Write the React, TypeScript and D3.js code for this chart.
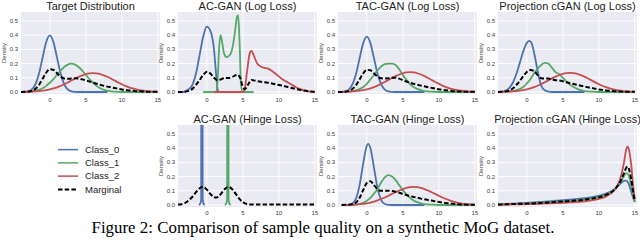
import React from 'react'
import * as d3 from 'd3'

const width = 640
const height = 241

const xTicks = [0, 5, 10, 15]
const yTicks = [0, 0.1, 0.2, 0.3, 0.4, 0.5]
const seriesNames = ['Class_0', 'Class_1', 'Class_2', 'Marginal']
const seriesColors = ['#4C72B0', '#55A868', '#C44E52', '#000000']

type Pt = [number, number]

// Target Distribution
const targetC0: Pt[] = [[-4,0],[-3.5,0.001],[-3,0.004],[-2.5,0.018],[-2,0.054],[-1.5,0.13],[-1,0.242],[-0.5,0.352],[0,0.399],[0.5,0.352],[1,0.242],[1.5,0.13],[2,0.054],[2.5,0.018],[3,0.004],[3.5,0.001],[4,0],[8,0]]
const targetC1: Pt[] = [[-3,0.002],[-2.5,0.005],[-2,0.009],[-1.5,0.016],[-1,0.027],[-0.5,0.043],[0,0.065],[0.5,0.091],[1,0.121],[1.5,0.151],[2,0.176],[2.5,0.193],[3,0.2],[3.5,0.193],[4,0.176],[4.5,0.151],[5,0.121],[5.5,0.091],[6,0.065],[6.5,0.043],[7,0.027],[7.5,0.016],[8,0.009],[8.5,0.005],[9,0.002],[10,0],[15,0]]
const targetC2: Pt[] = [[-4,0.001],[-3,0.002],[-2,0.004],[-1,0.009],[0,0.018],[0.5,0.025],[1,0.033],[1.5,0.043],[2,0.055],[2.5,0.067],[3,0.081],[3.5,0.094],[4,0.107],[4.5,0.117],[5,0.126],[5.5,0.131],[6,0.133],[6.5,0.131],[7,0.126],[7.5,0.117],[8,0.107],[8.5,0.094],[9,0.081],[9.5,0.067],[10,0.055],[10.5,0.043],[11,0.033],[11.5,0.025],[12,0.018],[13,0.009],[14,0.004],[15,0.002]]
const targetM: Pt[] = [[-4,0],[-3.5,0.001],[-3,0.003],[-2.5,0.008],[-2,0.022],[-1.5,0.05],[-1,0.093],[-0.5,0.136],[0,0.161],[0.5,0.156],[1,0.132],[1.5,0.108],[2,0.095],[2.5,0.093],[3,0.095],[3.5,0.096],[4,0.094],[4.5,0.089],[5,0.082],[5.5,0.074],[6,0.066],[6.5,0.058],[7,0.051],[7.5,0.044],[8,0.038],[8.5,0.033],[9,0.028],[9.5,0.023],[10,0.018],[10.5,0.014],[11,0.011],[12,0.006],[13,0.003],[14,0.001],[15,0.001]]

// AC-GAN (Log Loss)
const acLogC0: Pt[] = [[-3.5,0],[-3,0.005],[-2.5,0.02],[-2,0.05],[-1.5,0.13],[-1,0.26],[-0.5,0.39],[0,0.46],[0.5,0.43],[1,0.3],[1.25,0.15],[1.5,0.02],[1.75,0],[5,0]]
const acLogC1: Pt[] = [[-0.5,0],[1.3,0],[1.5,0.08],[1.7,0.3],[1.9,0.4],[2.1,0.36],[2.4,0.27],[2.75,0.245],[3.2,0.26],[3.6,0.32],[3.9,0.42],[4.2,0.53],[4.35,0.54],[4.55,0.35],[4.75,0.05],[5,0],[6.5,0]]
const acLogC2: Pt[] = [[1,0],[5,0],[5.3,0.03],[5.6,0.15],[6,0.28],[6.2,0.29],[6.5,0.26],[7,0.2],[7.5,0.18],[8,0.17],[8.5,0.165],[9,0.15],[9.5,0.13],[10,0.11],[10.5,0.09],[11,0.075],[11.5,0.06],[12,0.045],[12.5,0.03],[13,0.02],[13.5,0.01],[14,0.005],[15,0.001]]
const acLogM: Pt[] = [[-4,0],[-3,0.002],[-2.5,0.008],[-2,0.022],[-1.5,0.05],[-1,0.085],[-0.5,0.12],[0,0.143],[0.5,0.13],[1,0.1],[1.5,0.083],[2,0.09],[2.5,0.1],[3,0.098],[3.5,0.105],[4,0.118],[4.3,0.12],[4.7,0.09],[5,0.035],[5.3,0.02],[5.7,0.05],[6.2,0.085],[6.7,0.08],[7.5,0.072],[8.5,0.065],[9.5,0.055],[10.5,0.045],[11.5,0.032],[12.5,0.02],[13.5,0.01],[14.5,0.003],[15,0.001]]

// TAC-GAN (Log Loss)
const tacLogC0: Pt[] = [[-4,0],[-3.5,0.001],[-3,0.004],[-2.5,0.017],[-2,0.053],[-1.5,0.127],[-1,0.237],[-0.5,0.344],[0,0.39],[0.5,0.344],[1,0.237],[1.5,0.127],[2,0.053],[2.5,0.017],[3,0.004],[3.5,0.001],[4,0],[8,0]]
const tacLogC1: Pt[] = [[-3,0.001],[-2,0.006],[-1,0.02],[-0.5,0.035],[0,0.058],[0.5,0.088],[1,0.12],[1.5,0.152],[2,0.18],[2.5,0.197],[3,0.2],[3.5,0.2],[4,0.19],[4.5,0.16],[5,0.12],[5.5,0.085],[6,0.056],[6.5,0.036],[7,0.022],[7.5,0.013],[8,0.007],[9,0.002],[10,0],[15,0]]
const tacLogC2: Pt[] = [[-4,0.001],[-3,0.002],[-2,0.004],[-1,0.009],[0,0.019],[0.5,0.026],[1,0.035],[1.5,0.045],[2,0.058],[2.5,0.071],[3,0.085],[3.5,0.099],[4,0.112],[4.5,0.123],[5,0.132],[5.5,0.138],[6,0.14],[6.5,0.138],[7,0.132],[7.5,0.123],[8,0.112],[8.5,0.099],[9,0.085],[9.5,0.071],[10,0.058],[10.5,0.045],[11,0.035],[11.5,0.026],[12,0.019],[13,0.009],[14,0.004],[15,0.002]]
const tacLogM: Pt[] = [[-4,0],[-3,0.002],[-2,0.021],[-1.5,0.048],[-1,0.089],[-0.5,0.131],[0,0.156],[0.5,0.153],[1,0.131],[1.5,0.108],[2,0.097],[2.5,0.095],[3,0.096],[3.5,0.1],[4,0.101],[4.5,0.094],[5,0.084],[5.5,0.074],[6,0.065],[6.5,0.058],[7,0.051],[7.5,0.045],[8,0.04],[8.5,0.034],[9,0.029],[9.5,0.024],[10,0.019],[10.5,0.015],[11,0.012],[12,0.006],[13,0.003],[14,0.001],[15,0.001]]

// Projection cGAN (Log Loss)
const projLogC0: Pt[] = [[-4,0],[-3.5,0.002],[-3,0.008],[-2.5,0.025],[-2,0.06],[-1.5,0.12],[-1,0.2],[-0.5,0.285],[0,0.345],[0.3,0.36],[0.6,0.35],[1,0.28],[1.5,0.15],[2,0.045],[2.5,0.012],[3,0.003],[3.5,0],[8,0]]
const projLogC1: Pt[] = [[-3,0.001],[-2,0.006],[-1,0.02],[-0.5,0.035],[0,0.06],[0.5,0.09],[1,0.13],[1.5,0.165],[2,0.19],[2.5,0.205],[3,0.2],[3.5,0.17],[4,0.14],[4.5,0.125],[5,0.1],[5.5,0.075],[6,0.052],[6.5,0.035],[7,0.022],[7.5,0.013],[8,0.007],[9,0.002],[10,0],[15,0]]
const projLogC2: Pt[] = [[-4,0.001],[-3,0.002],[-2,0.004],[-1,0.009],[0,0.019],[0.5,0.026],[1,0.034],[1.5,0.044],[2,0.056],[2.5,0.069],[3,0.082],[3.5,0.096],[4,0.108],[4.5,0.119],[5,0.128],[5.5,0.133],[6,0.135],[6.5,0.133],[7,0.128],[7.5,0.119],[8,0.108],[8.5,0.095],[9,0.082],[9.5,0.068],[10,0.055],[10.5,0.044],[11,0.034],[11.5,0.025],[12,0.018],[13,0.009],[14,0.004],[15,0.002]]
const projLogM: Pt[] = [[-4,0],[-3.5,0.001],[-3,0.004],[-2.5,0.01],[-2,0.023],[-1.5,0.046],[-1,0.076],[-0.5,0.111],[0,0.141],[0.5,0.155],[1,0.148],[1.5,0.12],[2,0.097],[2.5,0.095],[3,0.095],[3.5,0.089],[4,0.083],[4.5,0.081],[5,0.076],[5.5,0.069],[6,0.062],[6.5,0.056],[7,0.05],[7.5,0.044],[8,0.038],[8.5,0.033],[9,0.028],[9.5,0.023],[10,0.018],[10.5,0.015],[11,0.011],[12,0.006],[13,0.003],[14,0.001],[15,0.001]]

// AC-GAN (Hinge Loss)
const acHingeC0: Pt[] = [[-1.1,0],[-0.9,0.01],[-0.78,0.04],[-0.74,3],[-0.62,3],[-0.58,0.04],[-0.46,0.01],[-0.3,0]]
const acHingeC1: Pt[] = [[2.5,0],[2.7,0.01],[2.82,0.04],[2.86,3],[2.98,3],[3.02,0.04],[3.14,0.01],[3.3,0]]
const acHingeM: Pt[] = [[-4,0.003],[-3.5,0.006],[-3,0.015],[-2.5,0.033],[-2,0.058],[-1.5,0.09],[-1,0.118],[-0.6,0.127],[-0.2,0.118],[0.2,0.097],[0.6,0.072],[1,0.056],[1.3,0.052],[1.7,0.062],[2.1,0.088],[2.5,0.113],[3,0.127],[3.5,0.113],[4,0.08],[4.5,0.045],[5,0.02],[5.5,0.008],[6,0.004],[10,0.003],[15,0.003]]

// TAC-GAN (Hinge Loss)
const tacHingeC0: Pt[] = [[-3.5,0],[-2.5,0.001],[-2,0.01],[-1.5,0.045],[-1,0.14],[-0.5,0.293],[0,0.417],[0.2,0.43],[0.5,0.401],[1,0.261],[1.5,0.115],[2,0.034],[2.5,0.007],[3,0.001],[3.5,0],[8,0]]
const tacHingeC1: Pt[] = [[-2,0.001],[-1,0.007],[-0.5,0.015],[0,0.03],[0.5,0.05],[1,0.08],[1.5,0.115],[2,0.16],[2.5,0.195],[3,0.21],[3.5,0.2],[4,0.175],[4.5,0.14],[5,0.105],[5.5,0.075],[6,0.05],[6.5,0.032],[7,0.02],[7.5,0.012],[8,0.006],[9,0.002],[10,0],[15,0]]
const tacHingeC2: Pt[] = [[-3,0.001],[-2,0.003],[-1,0.006],[0,0.012],[0.5,0.017],[1,0.024],[1.5,0.032],[2,0.042],[2.5,0.053],[3,0.065],[3.5,0.078],[4,0.09],[4.5,0.102],[5,0.112],[5.5,0.12],[6,0.126],[6.5,0.128],[7,0.126],[7.5,0.12],[8,0.112],[8.5,0.102],[9,0.09],[9.5,0.078],[10,0.065],[10.5,0.053],[11,0.042],[11.5,0.032],[12,0.024],[12.5,0.017],[13,0.012],[14,0.006],[15,0.003]]
const tacHingeM: Pt[] = [[-3.5,0],[-3,0.001],[-2,0.005],[-1.5,0.017],[-1,0.051],[-0.5,0.106],[0,0.155],[0.5,0.168],[1,0.14],[1.5,0.11],[2,0.1],[2.5,0.1],[3,0.1],[3.5,0.098],[4,0.093],[4.5,0.086],[5,0.078],[5.5,0.07],[6,0.063],[6.5,0.057],[7,0.051],[7.5,0.045],[8,0.04],[8.5,0.035],[9,0.031],[9.5,0.026],[10,0.022],[10.5,0.018],[11,0.014],[12,0.008],[13,0.004],[14,0.002],[15,0.001]]

// Projection cGAN (Hinge Loss)
const projHingeC0: Pt[] = [[-4,0.005],[-2,0.01],[0,0.015],[2,0.022],[4,0.03],[6,0.038],[8,0.048],[9,0.055],[10,0.066],[11,0.08],[12,0.105],[12.5,0.125],[13,0.15],[13.5,0.17],[13.8,0.172],[14.1,0.155],[14.4,0.11],[14.7,0.06],[15,0.02]]
const projHingeC1: Pt[] = [[-4,0.003],[-2,0.006],[0,0.01],[2,0.015],[4,0.021],[6,0.028],[8,0.038],[9,0.046],[10,0.057],[11,0.072],[12,0.1],[12.5,0.125],[13,0.16],[13.5,0.205],[13.8,0.225],[14.1,0.215],[14.4,0.16],[14.7,0.08],[15,0.025]]
const projHingeC2: Pt[] = [[-4,0.002],[-2,0.004],[0,0.006],[2,0.009],[4,0.013],[6,0.018],[8,0.026],[9,0.033],[10,0.043],[11,0.06],[12,0.095],[12.5,0.13],[13,0.19],[13.5,0.3],[13.8,0.39],[14,0.41],[14.2,0.385],[14.5,0.28],[14.8,0.12],[15,0.04]]
const projHingeM: Pt[] = [[-4,0.003],[-2,0.007],[0,0.01],[2,0.015],[4,0.021],[6,0.028],[8,0.037],[9,0.045],[10,0.055],[11,0.071],[12,0.1],[12.5,0.127],[13,0.167],[13.5,0.225],[13.8,0.262],[14,0.27],[14.2,0.25],[14.5,0.18],[14.8,0.08],[15,0.028]]

const panels = [
  { title: 'Target Distribution', col: 0, row: 0, curves: [targetC0, targetC1, targetC2, targetM] },
  { title: 'AC-GAN (Log Loss)', col: 1, row: 0, curves: [acLogC0, acLogC1, acLogC2, acLogM] },
  { title: 'TAC-GAN (Log Loss)', col: 2, row: 0, curves: [tacLogC0, tacLogC1, tacLogC2, tacLogM] },
  { title: 'Projection cGAN (Log Loss)', col: 3, row: 0, curves: [projLogC0, projLogC1, projLogC2, projLogM] },
  { title: 'AC-GAN (Hinge Loss)', col: 1, row: 1, curves: [acHingeC0, acHingeC1, null, acHingeM] },
  { title: 'TAC-GAN (Hinge Loss)', col: 2, row: 1, curves: [tacHingeC0, tacHingeC1, tacHingeC2, tacHingeM] },
  { title: 'Projection cGAN (Hinge Loss)', col: 3, row: 1, curves: [projHingeC0, projHingeC1, projHingeC2, projHingeM] },
]

const colLeft = [21, 178, 338, 498]
const rowTop = [12, 125]
const plotW = 139
const plotH = 82
const font = '"Liberation Sans", Arial, sans-serif'

function Panel({ p, idx }: { p: typeof panels[number]; idx: number }) {
  const x0 = colLeft[p.col]
  const y0 = rowTop[p.row]
  const x = d3.scaleLinear().domain([-4, 15.3]).range([0, plotW])
  const y = d3.scaleLinear().domain([-0.014, 0.563]).range([plotH, 0])
  const line = d3.line<Pt>().x(d => x(d[0])).y(d => y(d[1])).curve(d3.curveMonotoneX)
  const clipId = `clip-${idx}`
  return (
    <g transform={`translate(${x0},${y0})`}>
      <defs>
        <clipPath id={clipId}><rect width={plotW} height={plotH} /></clipPath>
      </defs>
      <rect width={plotW} height={plotH} fill="#EAEAF2" />
      {xTicks.map(t => (
        <line key={'gx' + t} x1={x(t)} x2={x(t)} y1={0} y2={plotH} stroke="#fff" strokeWidth={0.9} />
      ))}
      {yTicks.map(t => (
        <line key={'gy' + t} x1={0} x2={plotW} y1={y(t)} y2={y(t)} stroke="#fff" strokeWidth={0.9} />
      ))}
      <g clipPath={`url(#${clipId})`}>
        {p.curves.map((c, i) => c && (
          <path key={i} d={line(c) || ''} fill="none" stroke={seriesColors[i]}
            strokeWidth={i === 3 ? 2 : 1.8} strokeDasharray={i === 3 ? '4.5,2.2' : undefined}
            strokeLinejoin="round" />
        ))}
      </g>
      {yTicks.map(t => (
        <text key={'ty' + t} x={-3} y={y(t)} dy="0.35em" textAnchor="end" fontSize={6}
          fontFamily={font} fill="#3a3a3a">{t.toFixed(1)}</text>
      ))}
      {xTicks.map(t => (
        <text key={'tx' + t} x={x(t)} y={plotH + 8.2} textAnchor="middle" fontSize={6}
          fontFamily={font} fill="#3a3a3a">{t}</text>
      ))}
      <text transform={`translate(${-17.5},${plotH / 2}) rotate(-90)`} textAnchor="middle" dy="0.35em"
        fontSize={6} fontFamily={font} fill="#3a3a3a">Density</text>
      <text x={plotW / 2} y={-2.5} textAnchor="middle" fontSize={11} fontFamily={font} fill="#222">{p.title}</text>
    </g>
  )
}

export default function App() {
  const legendY = d3.scaleBand<string>().domain(seriesNames).range([143, 196])
  return (
    <svg width={width} height={height} style={{ position: 'absolute', left: 0, top: 0, background: '#fff' }}>
      {panels.map((p, i) => <Panel key={p.title} p={p} idx={i} />)}
      <g>
        {seriesNames.map((s, i) => {
          const cy = (legendY(s) || 0) + legendY.bandwidth() / 2
          return (
            <g key={s}>
              <line x1={58} x2={78} y1={cy} y2={cy} stroke={seriesColors[i]} strokeWidth={i === 3 ? 2 : 1.5}
                strokeDasharray={i === 3 ? '4.5,2.2' : undefined} />
              <text x={85} y={cy} dy="0.35em" fontSize={9.5} fontFamily={font} fill="#222">{s}</text>
            </g>
          )
        })}
      </g>
      <text x={width / 2 + 3} y={233} textAnchor="middle" fontSize={16.9}
        fontFamily='"Liberation Serif", "Times New Roman", serif' fill="#000">
        Figure 2: Comparison of sample quality on a synthetic MoG dataset.
      </text>
    </svg>
  )
}
